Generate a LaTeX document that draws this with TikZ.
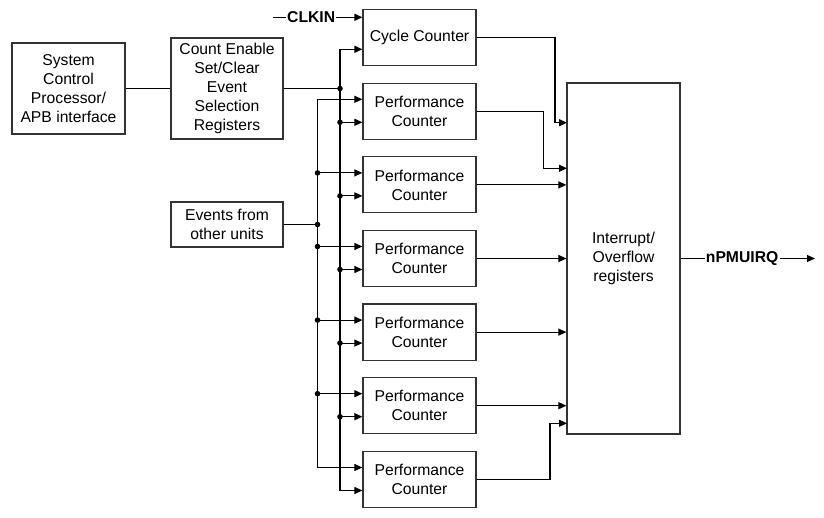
\documentclass[tikz,border=0pt]{standalone}
\usepackage{fontspec}
\setmainfont{Liberation Sans}
\usetikzlibrary{arrows.meta,calc}
\begin{document}
\begin{tikzpicture}[x=1pt,y=-1pt,
  box/.style={draw=black!80,line width=1.2pt,rectangle,inner sep=0pt,align=center,
    font=\fontsize{15.7}{19}\selectfont},
  lbl/.style={inner sep=1pt,font=\fontsize{15.7}{19}\selectfont\bfseries},
  wire/.style={draw=black,line width=1.1pt},
  arr/.style={wire,-{Triangle[length=8pt,width=7pt]}},
  dot/.style={circle,fill=black,inner sep=0pt,minimum size=5.6pt}]
\useasboundingbox (0,0) rectangle (824,518);
% boxes
\node[box,minimum width=113,minimum height=91] (sys) at (68.5,88.5) {System\\Control\\Processor/\\APB interface};
\node[box,minimum width=112,minimum height=101] (ce) at (227,88.5) {Count Enable\\Set/Clear\\Event\\Selection\\Registers};
\node[box,minimum width=112,minimum height=45] (ev) at (227,224.5) {Events from\\other units};
\node[box,minimum width=113,minimum height=56] (cyc) at (419.5,37.3) {Cycle Counter};
\foreach \i/\t in {1/83.3,2/156.9,3/230.5,4/304.1,5/377.7,6/451.5}{
  \node[box,minimum width=113,minimum height=56] (pc\i) at (419.5,\t+28) {Performance\\Counter};
  \coordinate (p\i-a) at ([yshift=12pt]pc\i.west);
  \coordinate (p\i-b) at ([yshift=-11pt]pc\i.west);
}
\node[box,minimum width=113,minimum height=351] (irq) at (623.5,258.5) {Interrupt/\\Overflow\\registers};
% left side
\draw[wire] (sys.east) -- (ce.west);
\coordinate (ceb) at (340,88.5);
\coordinate (evb) at (317.5,224.5);
\draw[wire] (ce.east) -- (ceb);
\draw[wire] (ev.east) -- (evb);
\node[dot] at (ceb) {};
\node[dot] at (evb) {};
% CLKIN
\coordinate (clk0) at (272.7,17.3);
\node[lbl,anchor=west] (clk) at (286,17.3) {CLKIN};
\coordinate (cyc-a) at ([yshift=20pt]cyc.west);
\coordinate (cyc-b) at ([yshift=-12pt]cyc.west);
\draw[wire] (clk0) -- (clk.west);
\draw[arr] (clk.east) -- (cyc-a);
% CE bus
\draw[arr] (ceb) |- (cyc-b);
\draw[arr] (ceb) |- (p6-b);
\foreach \i in {1,...,5}{
  \draw[arr] (ceb |- p\i-b) -- (p\i-b);
  \node[dot] at (ceb |- p\i-b) {};
}
% event bus
\draw[arr] (evb) |- (p1-a);
\draw[arr] (evb) |- (p6-a);
\foreach \i in {2,...,5}{
  \draw[arr] (evb |- p\i-a) -- (p\i-a);
  \node[dot] at (evb |- p\i-a) {};
}
% outputs
\coordinate (in1) at (567,122.7);
\coordinate (in2) at (567,168.3);
\coordinate (in7) at (567,423.3);
\draw[arr] (cyc.east) -| ([xshift=-12pt]in1) -- (in1);
\draw[arr] (pc1.east) -| ([xshift=-23.7pt]in2) -- (in2);
\foreach \i in {2,...,5}{
  \draw[arr] (pc\i.east) -- (pc\i.east -| irq.west);
}
\draw[arr] (pc6.east) -| ([xshift=-17pt]in7) -- (in7);
% nPMUIRQ
\node[lbl,anchor=west] (npm) at (704.7,258.5) {nPMUIRQ};
\coordinate (out) at (815,258.5);
\draw[wire] (irq.east) -- (npm.west);
\draw[arr] (npm.east) -- (out);
\end{tikzpicture}
\end{document}
